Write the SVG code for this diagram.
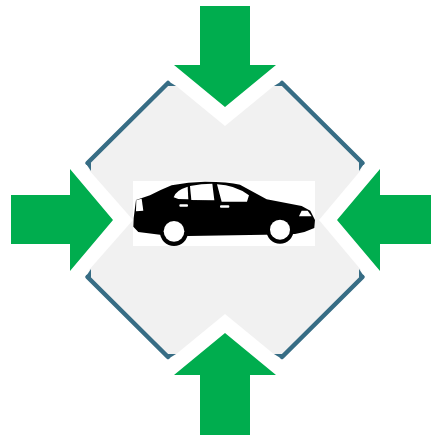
<svg xmlns="http://www.w3.org/2000/svg" width="431" height="435" viewBox="0 0 431 435">
<style>
.arrow{fill:#00ad4e}
.edge{fill:none;stroke:#376d85;stroke-width:4.500;stroke-linecap:round;stroke-linejoin:round}
.tail{fill:#376d85}
.ink{fill:#000}
.paper{fill:#fff}
</style>
<defs><filter id="soft" x="-5%" y="-5%" width="110%" height="110%"><feGaussianBlur stdDeviation="1.8"/></filter></defs>
<rect width="431" height="435" fill="#fff"/>
<g id="frame">
<polygon fill="#f1f1f1" points="175,85 225,126 275,85 282,83 362,163 361,170 319,220 361,270 362,277 282,357 275,355 225,314 175,355 168,357 88,277 89,270 133,220 89,170 88,163 168,83"/>
<g id="frame-edges">
<path class="edge" d="M87.500 163 L168 83"/>
<path class="edge" d="M282 83 L362.500 163"/>
<path class="edge" d="M87.500 277 L168 357"/>
<path class="edge" d="M282 357 L362.500 277"/>
<polygon class="tail" points="168,81 176,86 167,86"/>
<polygon class="tail" points="282,81 274,86 283,86"/>
<polygon class="tail" points="168,359 176,354 167,354"/>
<polygon class="tail" points="282,359 274,354 283,354"/>
<polygon class="tail" points="85.500,163 91,171 91,162"/>
<polygon class="tail" points="364.500,163 359,171 359,162"/>
<polygon class="tail" points="85.500,277 91,269 91,278"/>
<polygon class="tail" points="364.500,277 359,269 359,278"/>
</g>
</g>
<g id="car">
<rect x="133" y="181" width="182" height="65" fill="#fff"/>
<g transform="translate(125 170) scale(.3333)" filter="url(#soft)">
<path class="ink" d="M26 145 L33 90 L75 76 Q110 58 140 46 Q190 35 240 35 Q310 35 345 44 L425 88 L530 108 L556 122 L570 150 L568 174 Q540 188 510 192 L420 194 L190 198 L105 194 L40 186 L25 170 Z"/>
<circle class="ink" cx="147" cy="186" r="42"/>
<circle class="ink" cx="465" cy="180" r="41"/>
<circle class="paper" cx="147" cy="184" r="31"/>
<circle class="paper" cx="465" cy="179" r="30"/>
<path class="paper" d="M146 82 Q150 62 188 50 L190 88 L160 87 Z"/>
<path class="paper" d="M195 48 Q230 41 262 41 L268 91 L199 90 Z"/>
<path class="paper" d="M276 43 Q330 45 372 76 L366 95 L290 95 Z"/>
<path class="paper" d="M34 90 L50 86 L55 122 L33 124 Z"/>
<path class="paper" d="M522 139 L530 122 L548 122 L560 139 Z"/>
<rect class="paper" x="163" y="103" width="26" height="7" rx="3"/>
<rect class="paper" x="285" y="106" width="28" height="7" rx="3"/>
</g>
</g>
<g id="arrow-top"><polygon class="arrow" points="200,6 250,6 250,65 276,65 225,107 174,65 200,65"/></g>
<g id="arrow-bottom"><polygon class="arrow" points="200,435 250,435 250,375 276,375 225,333 174,375 200,375"/></g>
<g id="arrow-left"><polygon class="arrow" points="11,195 70,195 70,169 113,220 70,271 70,244 11,244"/></g>
<g id="arrow-right"><polygon class="arrow" points="431,195 380,195 380,169 337,220 380,271 380,244 431,244"/></g>
</svg>
